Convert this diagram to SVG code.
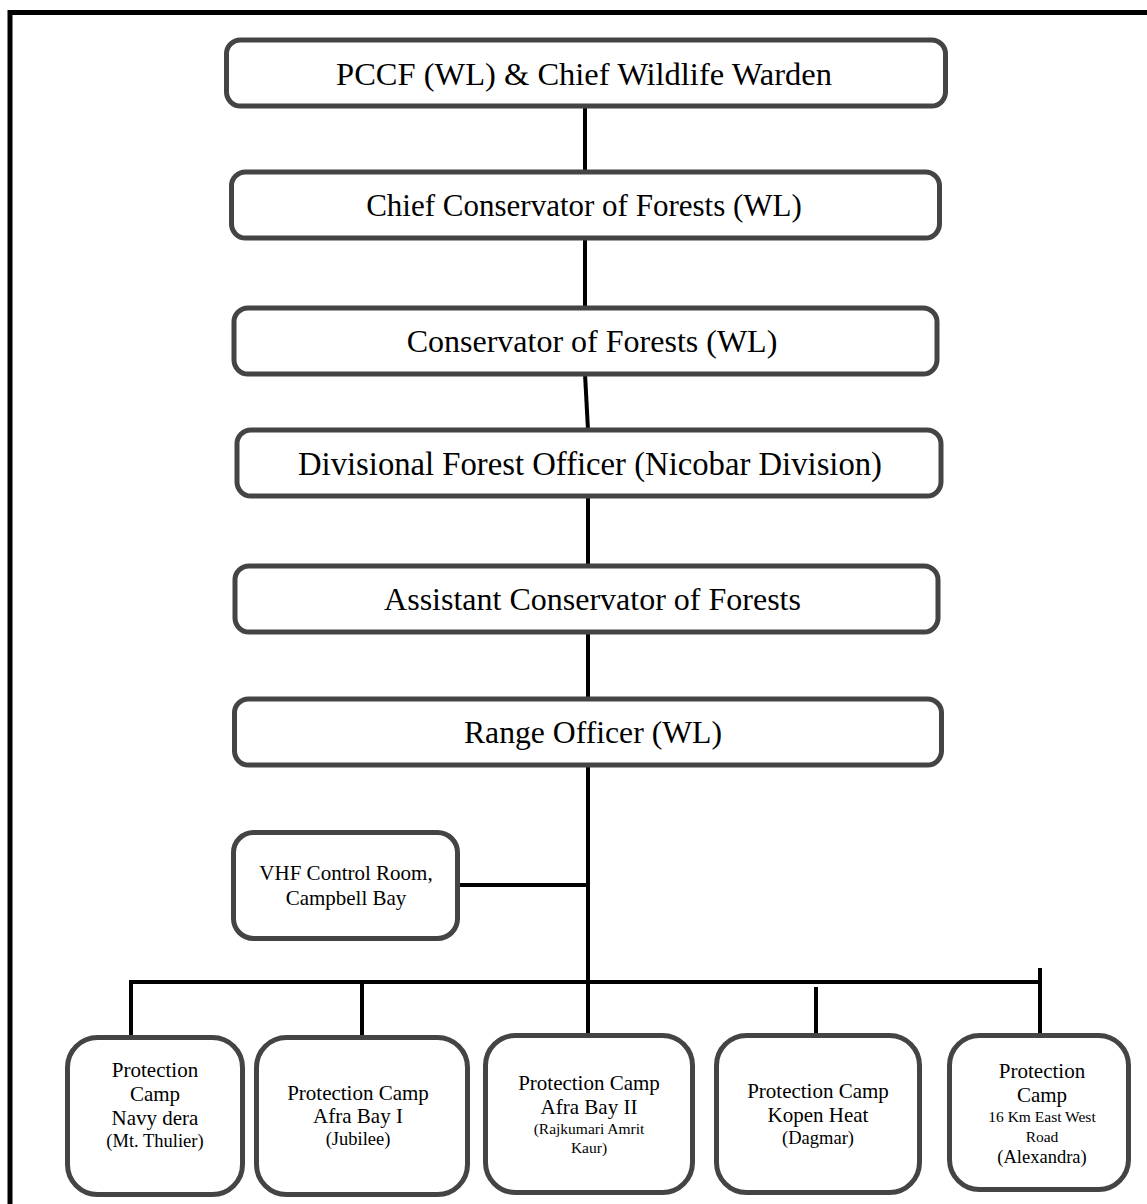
<svg xmlns="http://www.w3.org/2000/svg" width="1147" height="1204" viewBox="0 0 1147 1204">
<style>
text{font-family:"Liberation Serif",serif;fill:#000;text-anchor:middle}
.box{fill:#fff;stroke:#444;stroke-width:5}
.big{font-size:32px}
.mid{font-size:21px}
.sm{font-size:18.5px}
.xs{font-size:15.5px}
.ln{stroke:#000;stroke-width:4;fill:none}
</style>
<rect width="1147" height="1204" fill="#fff"/>
<path d="M10,1204 V12.5 H1147" fill="none" stroke="#000" stroke-width="5"/>
<g id="connectors">
<line class="ln" x1="585" y1="106" x2="585" y2="172"/>
<line class="ln" x1="585" y1="238" x2="585" y2="308"/>
<line class="ln" x1="585" y1="374" x2="588" y2="430"/>
<line class="ln" x1="588" y1="496" x2="588" y2="566"/>
<line class="ln" x1="588" y1="632" x2="588" y2="699"/>
<line class="ln" x1="588" y1="765" x2="588" y2="1033"/>
<line class="ln" x1="460" y1="885" x2="588" y2="885"/>
<polyline class="ln" points="131,1035 131,982 1040,982"/>
<line class="ln" x1="362" y1="982" x2="362" y2="1035"/>
<line class="ln" x1="816" y1="987" x2="816" y2="1033"/>
<line class="ln" x1="1040" y1="968" x2="1040" y2="1033"/>
</g>
<g id="n1"><rect class="box" x="226.5" y="40" width="719" height="66" rx="14"/><text class="big" x="584" y="85" style="font-size:32.5px">PCCF (WL) &amp; Chief Wildlife Warden</text></g>
<g id="n2"><rect class="box" x="231.5" y="172" width="708" height="66" rx="14"/><text class="big" x="584" y="216" style="font-size:31px">Chief Conservator of Forests (WL)</text></g>
<g id="n3"><rect class="box" x="234" y="308" width="703" height="66" rx="14"/><text class="big" x="592" y="352">Conservator of Forests (WL)</text></g>
<g id="n4"><rect class="box" x="237" y="430" width="704" height="66" rx="14"/><text class="big" x="590" y="475" style="font-size:32.7px">Divisional Forest Officer (Nicobar Division)</text></g>
<g id="n5"><rect class="box" x="235" y="566" width="703" height="66" rx="14"/><text class="big" x="592.5" y="610">Assistant Conservator of Forests</text></g>
<g id="n6"><rect class="box" x="234.5" y="699" width="707" height="66" rx="14"/><text class="big" x="593" y="743" style="font-size:31.7px">Range Officer (WL)</text></g>
<g id="vhf"><rect class="box" x="233.5" y="832.5" width="224" height="106" rx="20"/><text class="mid" x="346" y="880">VHF Control Room,</text><text class="mid" x="346" y="905">Campbell Bay</text></g>
<g id="pc1"><rect class="box" x="67.5" y="1037.5" width="175" height="157" rx="30"/><text class="mid" x="155" y="1077">Protection</text><text class="mid" x="155" y="1101">Camp</text><text class="mid" x="155" y="1125">Navy dera</text><text class="sm" x="155" y="1147">(Mt. Thulier)</text></g>
<g id="pc2"><rect class="box" x="256.5" y="1037.5" width="211" height="157" rx="30"/><text class="mid" x="358" y="1100">Protection Camp</text><text class="mid" x="358" y="1123">Afra Bay I</text><text class="sm" x="358" y="1145">(Jubilee)</text></g>
<g id="pc3"><rect class="box" x="485.5" y="1035.5" width="207" height="157" rx="30"/><text class="mid" x="589" y="1090">Protection Camp</text><text class="mid" x="589" y="1114">Afra Bay II</text><text class="xs" x="589" y="1134">(Rajkumari Amrit</text><text class="xs" x="589" y="1153">Kaur)</text></g>
<g id="pc4"><rect class="box" x="716.5" y="1035.5" width="203" height="157" rx="30"/><text class="mid" x="818" y="1098">Protection Camp</text><text class="mid" x="818" y="1122">Kopen Heat</text><text class="sm" x="818" y="1144">(Dagmar)</text></g>
<g id="pc5"><rect class="box" x="949.5" y="1035.5" width="179" height="154" rx="30"/><text class="mid" x="1042" y="1078">Protection</text><text class="mid" x="1042" y="1102">Camp</text><text class="xs" x="1042" y="1122">16 Km East West</text><text class="xs" x="1042" y="1142">Road</text><text class="sm" x="1042" y="1163">(Alexandra)</text></g>
</svg>
